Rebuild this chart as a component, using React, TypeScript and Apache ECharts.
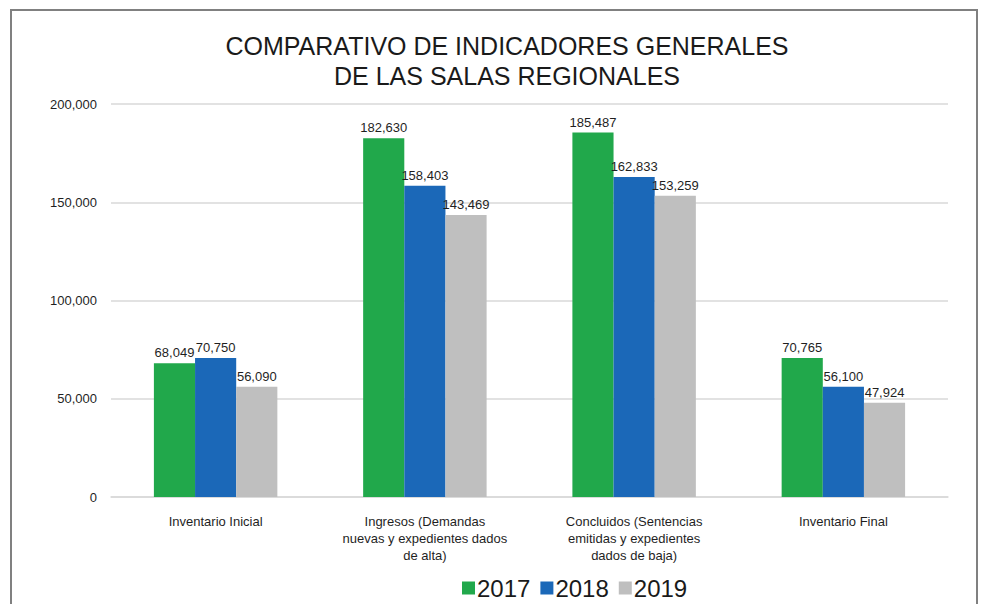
import React, { useEffect, useRef } from "react";
import * as echarts from "echarts";

const categories = [
  "Inventario Inicial",
  "Ingresos (Demandas\nnuevas y expedientes dados\nde alta)",
  "Concluidos (Sentencias\nemitidas y expedientes\ndados de baja)",
  "Inventario Final",
];
const years = ["2017", "2018", "2019"];
const values2017 = [68049, 182630, 185487, 70765];
const values2018 = [70750, 158403, 162833, 56100];
const values2019 = [56090, 143469, 153259, 47924];
const colors = ["#21A84B", "#1B68B8", "#BFBFBF"];

const fmt = (v: number) => v.toLocaleString("en-US");

export default function App() {
  const ref = useRef<HTMLDivElement>(null);
  useEffect(() => {
    if (!ref.current) return;
    const chart = echarts.init(ref.current, null, { renderer: "svg" });
    const seriesData = [values2017, values2018, values2019];
    chart.setOption({
      animation: false,
      textStyle: { fontFamily: "Liberation Sans, Arial, sans-serif" },
      title: {
        text: "COMPARATIVO DE INDICADORES GENERALES\nDE LAS SALAS REGIONALES",
        left: 502,
        textAlign: "center",
        top: 26,
        textStyle: {
          fontSize: 25,
          fontWeight: "normal",
          color: "#1a1a1a",
          lineHeight: 30,
          fontFamily: "Liberation Sans, Arial, sans-serif",
        },
      },
      graphic: [
        {
          type: "rect",
          shape: { x: 11, y: 10, width: 966, height: 620 },
          style: { fill: "none", stroke: "#808080", lineWidth: 2 },
          silent: true,
        },
      ],
      legend: {
        left: 457,
        top: 571,
        itemWidth: 13,
        itemHeight: 13,
        itemGap: 10,
        icon: "rect",
        textStyle: { fontSize: 24, color: "#1a1a1a", padding: [0, 0, 0, -3] },
        data: years,
      },
      grid: { left: 111, right: 47, top: 104, bottom: 107, containLabel: false },
      xAxis: {
        type: "category",
        data: categories,
        axisLine: { show: true, lineStyle: { color: "#D9D9D9", width: 1.5 } },
        axisTick: { show: false },
        axisLabel: {
          fontSize: 13,
          color: "#1f1f1f",
          lineHeight: 17,
          margin: 16,
          interval: 0,
        },
      },
      yAxis: {
        type: "value",
        min: 0,
        max: 200000,
        interval: 50000,
        axisLine: { show: false },
        axisTick: { show: false },
        splitLine: { lineStyle: { color: "#D9D9D9", width: 1.5 } },
        axisLabel: {
          fontSize: 13,
          color: "#1f1f1f",
          margin: 14,
          formatter: (v: number) => fmt(v),
        },
      },
      series: years.map((y, i) => ({
        name: y,
        type: "bar",
        data: seriesData[i],
        barGap: "0%",
        barCategoryGap: "41%",
        itemStyle: { color: colors[i] },
        label: {
          show: true,
          position: "top",
          fontSize: 13,
          color: "#1f1f1f",
          distance: 4,
          formatter: (p: any) => fmt(p.value),
        },
      })),
    });
    return () => chart.dispose();
  }, []);
  return (
    <div
      ref={ref}
      style={{ position: "fixed", left: 0, top: 0, width: 995, height: 604, background: "#fff" }}
    />
  );
}
